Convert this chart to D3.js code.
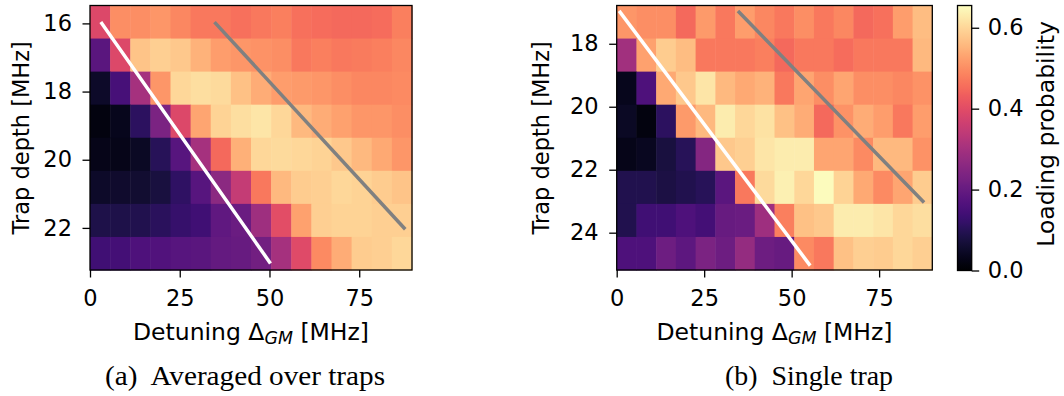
<!DOCTYPE html>
<html>
<head>
<meta charset="utf-8">
<script src="https://cdn.jsdelivr.net/npm/d3@7"></script>
<style>
  body { margin: 0; background: #fff; }
  svg { display: block; }
  text { font-family: "DejaVu Sans", sans-serif; fill: #000; }
  .caption { font-family: "Liberation Serif", serif; white-space: pre; }
</style>
</head>
<body>
<div id="chart"></div>
<script>
// detuning column centres [MHz]
var detuningA = [2.80, 8.41, 14.02, 19.62, 25.23, 30.83, 36.44, 42.05, 47.65, 53.26, 58.87, 64.47, 70.08, 75.68, 81.29, 86.90];
var detuningB = [2.82, 8.46, 14.09, 19.73, 25.37, 31.01, 36.64, 42.28, 47.92, 53.56, 59.19, 64.83, 70.47, 76.11, 81.74, 87.38];

// trap depth row centres [MHz]
var depthA = [15.96, 16.93, 17.90, 18.87, 19.84, 20.81, 21.78, 22.75];
var depthB = [17.31, 18.36, 19.41, 20.46, 21.51, 22.56, 23.61, 24.66];

// loading probability, one row per trap depth
var loadingA = [
  [0.39, 0.50, 0.50, 0.51, 0.49, 0.47, 0.47, 0.46, 0.47, 0.48, 0.46, 0.455, 0.45, 0.45, 0.455, 0.48],
  [0.18, 0.39, 0.575, 0.59, 0.58, 0.55, 0.52, 0.51, 0.505, 0.50, 0.47, 0.48, 0.47, 0.475, 0.48, 0.49],
  [0.05, 0.15, 0.30, 0.51, 0.60, 0.61, 0.605, 0.57, 0.54, 0.52, 0.515, 0.51, 0.50, 0.49, 0.49, 0.495],
  [0.02, 0.035, 0.11, 0.235, 0.39, 0.53, 0.595, 0.61, 0.62, 0.60, 0.56, 0.54, 0.525, 0.51, 0.51, 0.50],
  [0.03, 0.03, 0.045, 0.10, 0.175, 0.30, 0.45, 0.545, 0.60, 0.605, 0.60, 0.595, 0.58, 0.56, 0.535, 0.51],
  [0.05, 0.055, 0.06, 0.075, 0.115, 0.175, 0.26, 0.35, 0.47, 0.56, 0.585, 0.59, 0.60, 0.595, 0.585, 0.575],
  [0.085, 0.085, 0.09, 0.105, 0.125, 0.14, 0.19, 0.205, 0.29, 0.40, 0.525, 0.59, 0.595, 0.595, 0.59, 0.59],
  [0.14, 0.145, 0.16, 0.165, 0.175, 0.18, 0.195, 0.20, 0.22, 0.30, 0.395, 0.495, 0.54, 0.585, 0.59, 0.60]
];
var loadingB = [
  [0.51, 0.50, 0.50, 0.45, 0.515, 0.47, 0.52, 0.49, 0.47, 0.50, 0.47, 0.49, 0.45, 0.46, 0.52, 0.565],
  [0.295, 0.525, 0.585, 0.565, 0.47, 0.47, 0.47, 0.48, 0.45, 0.47, 0.47, 0.455, 0.47, 0.47, 0.47, 0.56],
  [0.035, 0.16, 0.535, 0.58, 0.62, 0.56, 0.535, 0.55, 0.47, 0.53, 0.50, 0.53, 0.50, 0.50, 0.49, 0.505],
  [0.045, 0.02, 0.11, 0.515, 0.56, 0.63, 0.60, 0.615, 0.57, 0.54, 0.45, 0.505, 0.54, 0.52, 0.47, 0.52],
  [0.03, 0.04, 0.075, 0.10, 0.25, 0.58, 0.59, 0.62, 0.63, 0.63, 0.53, 0.53, 0.495, 0.56, 0.56, 0.505],
  [0.09, 0.09, 0.08, 0.09, 0.10, 0.18, 0.47, 0.605, 0.635, 0.60, 0.65, 0.595, 0.535, 0.495, 0.53, 0.585],
  [0.09, 0.14, 0.14, 0.16, 0.145, 0.20, 0.205, 0.29, 0.48, 0.57, 0.58, 0.63, 0.63, 0.62, 0.60, 0.61],
  [0.16, 0.16, 0.21, 0.185, 0.235, 0.21, 0.275, 0.21, 0.20, 0.495, 0.47, 0.57, 0.59, 0.585, 0.60, 0.59]
];

// guide lines [detuning, depth]
var whiteLineA = [[3.3, 16], [50, 23]];
var grayLineA = [[35, 16], [87.5, 22]];
var whiteLineB = [[1, 17], [55, 25]];
var grayLineB = [[35, 17], [87.5, 23]];

var xTicks = [0, 25, 50, 75];
var yTicksA = [16, 18, 20, 22];
var yTicksB = [18, 20, 22, 24];
var colorTicks = [0, 0.2, 0.4, 0.6];
var captions = ["(a)  Averaged over traps", "(b)  Single trap"];

var config = {
  width: 1064,
  height: 396,
  top: 5.5,
  bottom: 270,
  fontSize: 22.5,
  labelSize: 23.5,
  vmax: 0.655,
  cbar: { left: 957.5, right: 971.7 }
};

var panels = [
  { left: 90, right: 412, detuning: detuningA, depth: depthA, loading: loadingA, yTicks: yTicksA,
    white: whiteLineA, gray: grayLineA, caption: captions[0], captionX: 245, captionLen: 280, labelX: 29 },
  { left: 616.7, right: 932.3, detuning: detuningB, depth: depthB, loading: loadingB, yTicks: yTicksB,
    white: whiteLineB, gray: grayLineB, caption: captions[1], captionX: 809, captionLen: 168, labelX: 549 }
];

var svg = d3.select("#chart").append("svg")
    .attr("width", config.width)
    .attr("height", config.height);
svg.append("rect").attr("width", config.width).attr("height", config.height).attr("fill", "#fff");

var color = d3.scaleSequential(d3.interpolateMagma).domain([0, config.vmax]);

// cell boundaries from centres
function edges(c) {
  var e = [c[0] - (c[1] - c[0]) / 2];
  for (var i = 1; i < c.length; i++) e.push((c[i - 1] + c[i]) / 2);
  e.push(c[c.length - 1] + (c[c.length - 1] - c[c.length - 2]) / 2);
  return e;
}

function styleAxis(sel) {
  sel.select(".domain").remove();
  sel.attr("font-family", null).attr("font-size", null);
  sel.selectAll("line").attr("stroke", "#000").attr("stroke-width", 1.3);
  sel.selectAll("text").style("font-size", config.fontSize + "px");
}

function drawPanel(p) {
  var xe = edges(p.detuning), ye = edges(p.depth);
  var x = d3.scaleLinear().domain([0, xe[xe.length - 1]]).range([p.left, p.right]);
  var y = d3.scaleLinear().domain([ye[0], ye[ye.length - 1]]).range([config.top, config.bottom]);
  var g = svg.append("g");

  var cells = [];
  p.loading.forEach(function(row, i) {
    row.forEach(function(v, j) { cells.push({ i: i, j: j, v: v }); });
  });
  g.selectAll("rect.cell").data(cells).enter().append("rect")
      .attr("class", "cell")
      .attr("x", function(d) { return x(xe[d.j]); })
      .attr("y", function(d) { return y(ye[d.i]); })
      .attr("width", function(d) { return x(xe[d.j + 1]) - x(xe[d.j]) + 0.5; })
      .attr("height", function(d) { return y(ye[d.i + 1]) - y(ye[d.i]) + 0.5; })
      .attr("fill", function(d) { return color(d.v); });

  var line = d3.line().x(function(d) { return x(d[0]); }).y(function(d) { return y(d[1]); });
  g.append("path").attr("d", line(p.white)).attr("fill", "none")
      .attr("stroke", "#fff").attr("stroke-width", 3.5).attr("stroke-linecap", "square");
  g.append("path").attr("d", line(p.gray)).attr("fill", "none")
      .attr("stroke", "#808080").attr("stroke-width", 3.5).attr("stroke-linecap", "square");

  g.append("rect")
      .attr("x", p.left).attr("y", config.top)
      .attr("width", p.right - p.left).attr("height", config.bottom - config.top)
      .attr("fill", "none").attr("stroke", "#000").attr("stroke-width", 1.3);

  g.append("g")
      .attr("transform", "translate(0," + config.bottom + ")")
      .call(d3.axisBottom(x).tickValues(xTicks).tickSize(7.5).tickPadding(13).tickSizeOuter(0))
      .call(styleAxis);
  g.append("g")
      .attr("transform", "translate(" + p.left + ",0)")
      .call(d3.axisLeft(y).tickValues(p.yTicks).tickSize(7.5).tickPadding(10.5).tickSizeOuter(0))
      .call(styleAxis);

  var cx = (p.left + p.right) / 2;
  var xl = g.append("text")
      .attr("x", cx).attr("y", 340)
      .attr("text-anchor", "middle")
      .style("font-size", config.labelSize + "px");
  xl.append("tspan").text("Detuning Δ");
  xl.append("tspan").text("GM").style("font-style", "italic")
      .style("font-size", (config.labelSize * 0.74) + "px").attr("dy", "3.5");
  xl.append("tspan").text(" [MHz]").attr("dy", "-3.5");

  g.append("text")
      .attr("transform", "translate(" + p.labelX + "," + (config.top + config.bottom) / 2 + ") rotate(-90)")
      .attr("text-anchor", "middle")
      .style("font-size", config.fontSize + "px")
      .text("Trap depth [MHz]");

  g.append("text")
      .attr("class", "caption")
      .attr("x", p.captionX).attr("y", 385)
      .attr("text-anchor", "middle")
      .attr("textLength", p.captionLen)
      .attr("lengthAdjust", "spacingAndGlyphs")
      .style("font-size", "27px")
      .text(p.caption);
}

function drawColorbar() {
  var c = config.cbar;
  var grad = svg.append("defs").append("linearGradient")
      .attr("id", "magma").attr("x1", 0).attr("y1", 1).attr("x2", 0).attr("y2", 0);
  d3.range(0, 1.0001, 0.02).forEach(function(t) {
    grad.append("stop").attr("offset", t).attr("stop-color", d3.interpolateMagma(t));
  });
  var s = d3.scaleLinear().domain([0, config.vmax]).range([config.bottom + 0.5, config.top]);
  svg.append("rect")
      .attr("x", c.left).attr("y", config.top)
      .attr("width", c.right - c.left).attr("height", config.bottom + 0.5 - config.top)
      .attr("fill", "url(#magma)").attr("stroke", "#000").attr("stroke-width", 1.3);
  svg.append("g")
      .attr("transform", "translate(" + c.right + ",0)")
      .call(d3.axisRight(s).tickValues(colorTicks).tickFormat(d3.format(".1f")).tickSize(7.5).tickPadding(8.5).tickSizeOuter(0))
      .call(styleAxis);
  svg.append("text")
      .attr("transform", "translate(1054,134) rotate(-90)")
      .attr("text-anchor", "middle")
      .style("font-size", config.labelSize + "px")
      .text("Loading probability");
}

panels.forEach(drawPanel);
drawColorbar();
</script>
</body>
</html>
